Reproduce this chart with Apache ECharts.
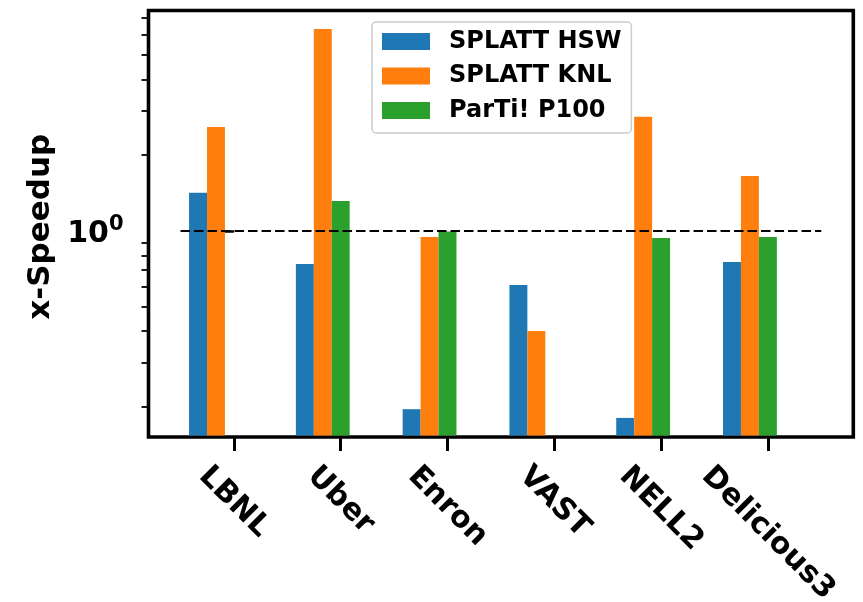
<!DOCTYPE html>
<html>
<head>
<meta charset="utf-8">
<script src="https://cdn.jsdelivr.net/npm/echarts@6/dist/echarts.min.js"></script>
<style>
  html, body { margin: 0; padding: 0; background: #fff; }
  #chart { width: 863px; height: 602px; }
</style>
</head>
<body>
<div id="chart"></div>
<script>
// ---- data ----
const categories = ['LBNL', 'Uber', 'Enron', 'VAST', 'NELL2', 'Delicious3'];
const seriesNames = ['SPLATT HSW', 'SPLATT KNL', 'ParTi! P100'];
const splattHSW = [1.42, 0.74, 0.196, 0.61, 0.181, 0.753];
const splattKNL = [2.59, 6.34, 0.947, 0.401, 2.84, 1.654];
const partiP100 = [null, 1.316, 0.995, null, 0.938, 0.947];
const yMajorTicks = [1];
const yMinorTicks = [0.2, 0.3, 0.4, 0.5, 0.6, 0.7, 0.8, 0.9, 2, 3, 4, 5, 6, 7];
const refLineX = [-0.5, 5.5];
const refLineY = 1;

// ---- style ----
const FONT = '"DejaVu Sans", sans-serif';
const TICK_FS = 30;
const NAME_FS = 31;
const BAR_W = 0.168;
const colors = ['#1f77b4', '#ff7f0e', '#2ca02c'];
const offsets = [-2 * BAR_W, -BAR_W, 0];

// measure category label widths for matplotlib-like rotated centering
const ctx = document.createElement('canvas').getContext('2d');
ctx.font = 'bold ' + TICK_FS + 'px ' + FONT;
const widths = categories.map(c => ctx.measureText(c).width);
const wMax = Math.max.apply(null, widths);
const K = wMax / 2;
const C = Math.SQRT1_2;
const H = TICK_FS;
const rich = {};
categories.forEach((c, i) => {
  const W = widths[i];
  const s = K / 2 - W / 4;
  const t = K / 2 + W / 4;
  rich['l' + i] = {
    fontSize: TICK_FS, fontWeight: 'bold', fontFamily: FONT, color: '#000',
    padding: [2 * t, 0, 0, s]
  };
});
const labelMargin = 24 - C * (K - H / 2);

const chart = echarts.init(document.getElementById('chart'), null, { renderer: 'canvas' });

function makeBarSeries(idx, values) {
  return {
    name: seriesNames[idx],
    type: 'custom',
    xAxisIndex: 0,
    yAxisIndex: 0,
    z: 2,
    itemStyle: { color: colors[idx] },
    encode: { x: 0, y: 1 },
    data: values.map((v, i) => [i, v == null ? NaN : v]),
    renderItem: function (params, api) {
      const v = api.value(1);
      if (v == null || isNaN(v)) return null;
      const xc = api.value(0) + offsets[idx];
      const p0 = api.coord([xc - BAR_W / 2, v]);
      const p1 = api.coord([xc + BAR_W / 2, v]);
      const cs = params.coordSys;
      const bottom = cs.y + cs.height - 1.5;
      return {
        type: 'rect',
        shape: { x: p0[0], y: p0[1], width: p1[0] - p0[0], height: bottom - p0[1] },
        style: api.style({ fill: colors[idx], stroke: null })
      };
    }
  };
}

const option = {
  animation: false,
  backgroundColor: '#fff',
  grid: {
    left: 148.5, right: 9.7, top: 10.5, bottom: 165,
    containLabel: false,
    outerBoundsMode: 'none',
    show: true, borderColor: '#000', borderWidth: 3.6, backgroundColor: 'transparent'
  },
  legend: {
    orient: 'vertical',
    left: 372, top: 22,
    padding: [7.5, 10, 10.5, 10],
    itemWidth: 48, itemHeight: 17, itemGap: 10.5,
    icon: 'rect',
    data: seriesNames,
    backgroundColor: 'rgba(255,255,255,0.8)',
    borderColor: '#cccccc', borderWidth: 1.5, borderRadius: 4,
    textStyle: { fontSize: 24, fontWeight: 'bold', fontFamily: FONT, color: '#000', padding: [0, 0, 0, 14] }
  },
  xAxis: {
    type: 'value', min: -0.8, max: 5.8,
    axisLine: { show: false },
    splitLine: { show: false },
    axisTick: { show: true, customValues: [0, 1, 2, 3, 4, 5], length: 14, lineStyle: { color: '#000', width: 3 } },
    axisLabel: {
      show: true, customValues: [0, 1, 2, 3, 4, 5], rotate: -45, margin: labelMargin,
      formatter: function (v) { const i = Math.round(v); return '{l' + i + '|' + categories[i] + '}'; },
      rich: rich
    }
  },
  yAxis: [
    {
      type: 'log', logBase: 10, min: 0.152, max: 7.51,
      name: 'x-Speedup', nameLocation: 'middle', nameRotate: 90, nameGap: 91,
      nameTextStyle: { fontSize: NAME_FS, fontWeight: 'bold', fontFamily: FONT, color: '#000', padding: [0, 6, 0, 0] },
      axisLine: { show: false },
      splitLine: { show: false },
      minorTick: { show: false },
      axisTick: { show: true, customValues: yMajorTicks, length: 14, lineStyle: { color: '#000', width: 2.5 } },
      axisLabel: {
        show: true, customValues: yMajorTicks, margin: 25,
        padding: [6, 0, 0, 0],
        formatter: function () { return '{b|10}{s|0}'; },
        rich: {
          b: { fontSize: TICK_FS, fontWeight: 'bold', fontFamily: FONT, color: '#000' },
          s: { fontSize: 21, fontWeight: 'bold', fontFamily: FONT, color: '#000', padding: [0, 0, 19, 0] }
        }
      }
    },
    {
      type: 'log', logBase: 10, min: 0.152, max: 7.51,
      position: 'left',
      axisLine: { show: false },
      splitLine: { show: false },
      axisTick: { show: true, customValues: yMinorTicks, length: 7, lineStyle: { color: '#000', width: 1.8 } },
      axisLabel: { show: false }
    }
  ],
  series: [
    makeBarSeries(0, splattHSW),
    makeBarSeries(1, splattKNL),
    makeBarSeries(2, partiP100),
    {
      name: 'ref',
      type: 'line',
      xAxisIndex: 0, yAxisIndex: 0,
      z: 5,
      showSymbol: false, symbol: 'none',
      silent: true,
      lineStyle: { color: '#000', width: 2, type: [9.5, 4] },
      data: refLineX.map(x => [x, refLineY])
    }
  ]
};
chart.setOption(option);
</script>
</body>
</html>
